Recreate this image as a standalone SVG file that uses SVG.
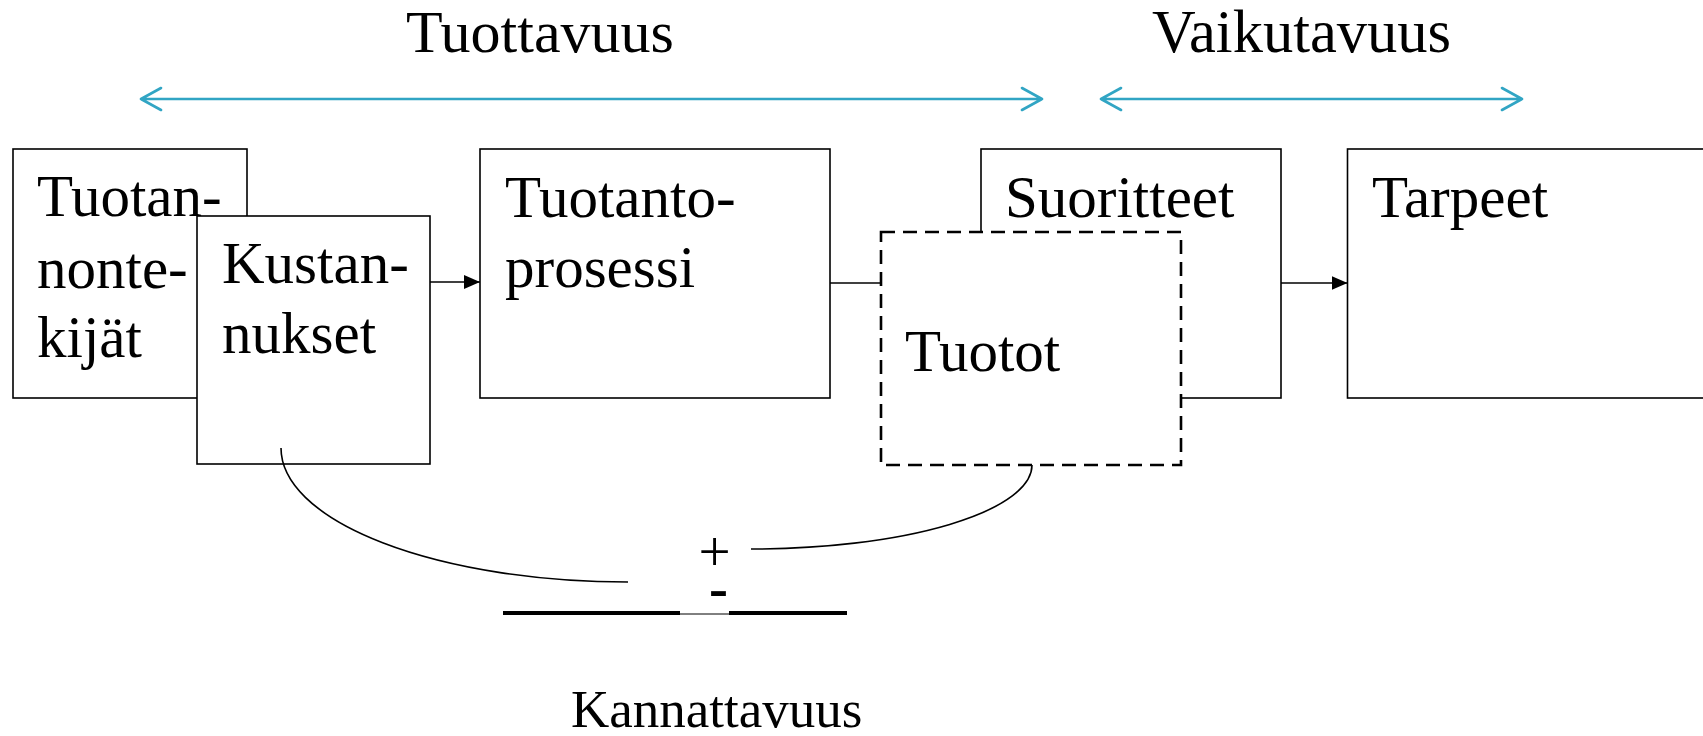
<svg xmlns="http://www.w3.org/2000/svg" width="1703" height="736" viewBox="0 0 1703 736">
<defs>
<style>
.box{fill:#fff;stroke:#000;stroke-width:1.6}
.dash{fill:#fff;stroke:#000;stroke-width:2.6;stroke-dasharray:14 8}
.t{font-family:"Liberation Serif","Times New Roman",serif;font-size:59px;fill:#000}
.conn{fill:none;stroke:#000;stroke-width:1.6}
.teal{fill:none;stroke:#31a5c4;stroke-width:2.6;stroke-linecap:round;stroke-linejoin:round}
</style>
<marker id="ah" viewBox="0 0 16 14" refX="16" refY="7" markerWidth="16" markerHeight="14" markerUnits="userSpaceOnUse" orient="auto">
<path d="M0,0 L16,7 L0,14 Z" fill="#000"/>
</marker>
</defs>
<rect width="1703" height="736" fill="#fff"/>

<g id="measure-tuottavuus">
<text class="t" x="406" y="52" style="font-size:60px">Tuottavuus</text>
<path class="teal" d="M141,99 L1042,99 M161,88 L141,99 L161,110 M1022,88 L1042,99 L1022,110"/>
</g>
<g id="measure-vaikutavuus">
<text class="t" x="1152" y="52" style="font-size:60.5px">Vaikutavuus</text>
<path class="teal" d="M1101,99 L1522,99 M1121,88 L1101,99 L1121,110 M1502,88 L1522,99 L1502,110"/>
</g>

<g id="node-tuotannontekijat">
<rect class="box" x="13" y="149" width="234" height="249"/>
<text class="t" x="37" y="216">Tuotan-</text>
<text class="t" x="37" y="288">nonte-</text>
<text class="t" x="37" y="357">kijät</text>
</g>
<g id="node-kustannukset">
<rect class="box" x="197" y="216" width="233" height="248"/>
<text class="t" x="222" y="283">Kustan-</text>
<text class="t" x="222" y="353">nukset</text>
</g>
<g id="node-tuotantoprosessi">
<rect class="box" x="480" y="149" width="350" height="249"/>
<text class="t" x="505" y="217">Tuotanto-</text>
<text class="t" x="505" y="287">prosessi</text>
</g>
<g id="node-suoritteet">
<rect class="box" x="981" y="149" width="300" height="249"/>
<text class="t" x="1005" y="217">Suoritteet</text>
</g>
<g id="node-tuotot">
<rect class="dash" x="881" y="232" width="300" height="233"/>
<text class="t" x="905" y="371">Tuotot</text>
</g>
<g id="node-tarpeet">
<rect class="box" x="1347.5" y="149" width="380" height="249"/>
<text class="t" x="1372" y="217">Tarpeet</text>
</g>

<g id="connectors">
<line class="conn" x1="430" y1="282" x2="480" y2="282" marker-end="url(#ah)"/>
<line class="conn" x1="830" y1="283" x2="881" y2="283"/>
<line class="conn" x1="1281" y1="283" x2="1347.5" y2="283" marker-end="url(#ah)"/>
<path class="conn" d="M281,448 A347,134 0 0 0 628,582"/>
<path class="conn" d="M1032,465 A281,84 0 0 1 751,549"/>
</g>

<g id="kannattavuus">
<text class="t" x="714.5" y="571" text-anchor="middle" style="font-size:57px">+</text>
<text class="t" x="718.5" y="607" text-anchor="middle" font-weight="bold" style="font-size:57px">-</text>
<rect x="503" y="611" width="177" height="4" fill="#000"/>
<line x1="680" y1="614" x2="729" y2="614" stroke="#000" stroke-width="1"/>
<rect x="729" y="611" width="118" height="4" fill="#000"/>
<text class="t" x="571" y="727" style="font-size:53px">Kannattavuus</text>
</g>
</svg>
